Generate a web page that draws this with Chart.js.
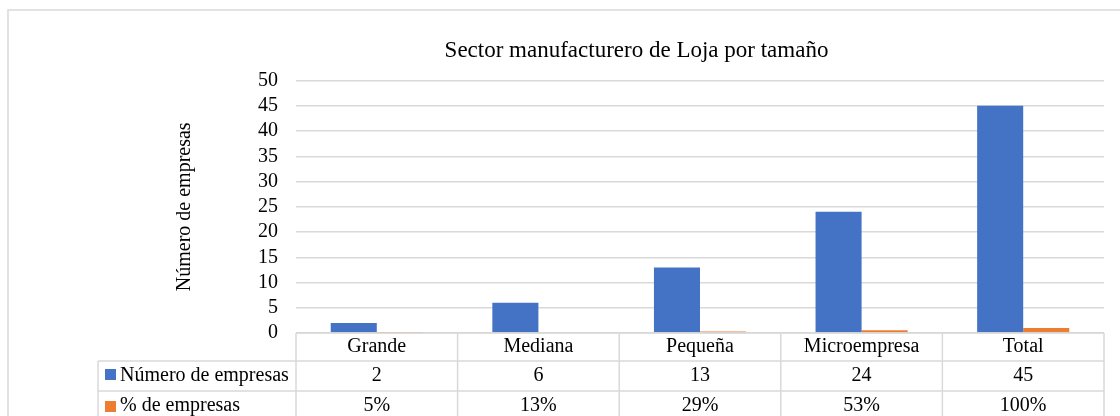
<!DOCTYPE html>
<html>
<head>
<meta charset="utf-8">
<script src="https://cdn.jsdelivr.net/npm/chart.js@4/dist/chart.umd.min.js"></script>
<style>
  html, body { margin: 0; padding: 0; background: #fff; }
  #wrap { width: 1120px; height: 416px; position: relative; }
</style>
</head>
<body>
<div id="wrap"><canvas id="chart"></canvas></div>
<script>
var categories = ['Grande', 'Mediana', 'Pequeña', 'Microempresa', 'Total'];
var numeroEmpresas = [2, 6, 13, 24, 45];
var pctEmpresas = [0.05, 0.13, 0.29, 0.53, 1.00];
var pctLabels = ['5%', '13%', '29%', '53%', '100%'];
var yTicks = [0, 5, 10, 15, 20, 25, 30, 35, 40, 45, 50];

var blue = '#4472C4';
var orange = '#ED7D31';
var lineColor = '#D9D9D9';
var fontFamily = '"Liberation Serif", "Times New Roman", serif';

// chart frame + data table under the plot
var tablePlugin = {
  id: 'dataTable',
  beforeDraw: function(chart) {
    var ctx = chart.ctx;
    ctx.save();
    ctx.strokeStyle = lineColor;
    ctx.lineWidth = 1.5;
    ctx.strokeRect(8, 10, 1200, 500);
    ctx.restore();
  },
  afterDraw: function(chart) {
    var ctx = chart.ctx;
    var x = chart.scales.x;
    var area = chart.chartArea;
    var n = categories.length;
    var cw = (area.right - area.left) / n;
    var top = area.bottom;
    var r1 = top + 28, r2 = top + 58, bottom = top + 90;
    var leftCol = 98;

    ctx.save();
    ctx.strokeStyle = lineColor;
    ctx.lineWidth = 1.5;
    ctx.beginPath();
    ctx.moveTo(area.left, top); ctx.lineTo(area.right, top);
    ctx.moveTo(leftCol, r1); ctx.lineTo(area.right, r1);
    ctx.moveTo(leftCol, r2); ctx.lineTo(area.right, r2);
    ctx.moveTo(leftCol, r1); ctx.lineTo(leftCol, bottom);
    for (var i = 0; i <= n; i++) {
      var bx = area.left + i * cw;
      ctx.moveTo(bx, top); ctx.lineTo(bx, bottom);
    }
    ctx.stroke();

    ctx.fillStyle = '#000';
    ctx.font = '20px ' + fontFamily;
    ctx.textAlign = 'center';
    ctx.textBaseline = 'middle';
    for (var j = 0; j < n; j++) {
      var cx = x.getPixelForValue(j);
      ctx.fillText(categories[j], cx, top + 14);
      ctx.fillText(String(numeroEmpresas[j]), cx, r1 + 15);
      ctx.fillText(pctLabels[j], cx, r2 + 15);
    }

    var ds = chart.data.datasets;
    ctx.textAlign = 'left';
    ctx.fillStyle = ds[0].backgroundColor;
    ctx.fillRect(105, r1 + 8, 11, 11);
    ctx.fillStyle = ds[1].backgroundColor;
    ctx.fillRect(105, r2 + 10, 11, 11);
    ctx.fillStyle = '#000';
    ctx.fillText(ds[0].label, 120, r1 + 15);
    ctx.fillText(ds[1].label, 120, r2 + 15);
    ctx.restore();
  }
};

var ctx = document.getElementById('chart').getContext('2d');
new Chart(ctx, {
  type: 'bar',
  data: {
    labels: categories,
    datasets: [{
      label: 'Número de empresas',
      data: numeroEmpresas,
      backgroundColor: blue
    }, {
      label: '% de empresas',
      data: pctEmpresas,
      backgroundColor: orange
    }]
  },
  options: {
    responsive: true,
    maintainAspectRatio: false,
    animation: false,
    layout: {
      padding: { left: 169, right: 16, top: 0, bottom: 75 }
    },
    datasets: {
      bar: { categoryPercentage: 0.57, barPercentage: 1.0 }
    },
    plugins: {
      legend: { display: false },
      tooltip: { enabled: false },
      title: {
        display: true,
        text: 'Sector manufacturero de Loja por tamaño',
        color: '#000',
        font: { family: fontFamily, size: 23, weight: 'normal' },
        padding: { top: 37, bottom: 16 }
      }
    },
    scales: {
      x: {
        grid: { display: false },
        border: { display: false },
        ticks: { display: false }
      },
      y: {
        min: 0,
        max: 50,
        afterBuildTicks: function(scale) {
          scale.ticks = yTicks.map(function(v) { return { value: v }; });
        },
        afterFit: function(scale) { scale.width = 127; },
        grid: { color: lineColor, lineWidth: 1.5, drawTicks: false },
        border: { display: false },
        ticks: {
          autoSkip: false,
          padding: 18,
          color: '#000',
          font: { family: fontFamily, size: 20 }
        },
        title: {
          display: true,
          text: 'Número de empresas',
          color: '#000',
          font: { family: fontFamily, size: 20 }
        }
      }
    }
  },
  plugins: [tablePlugin]
});
</script>
</body>
</html>
